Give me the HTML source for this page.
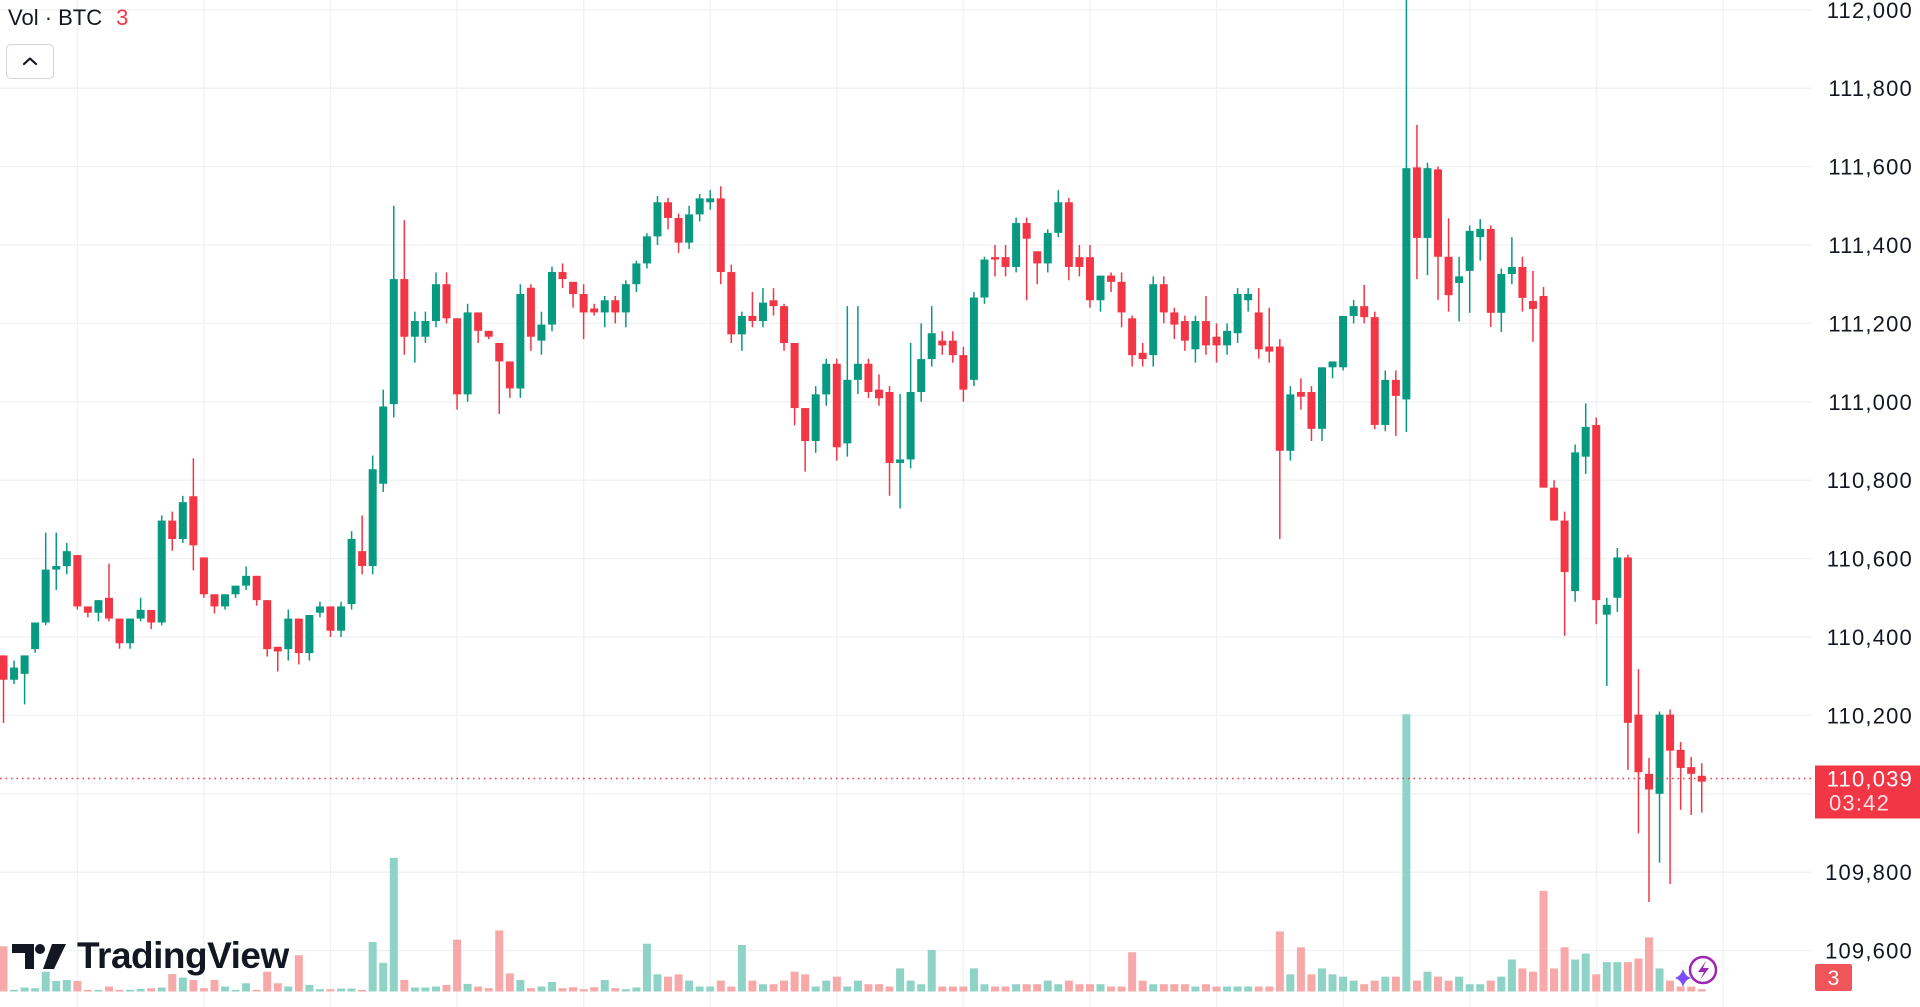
<!DOCTYPE html>
<html><head><meta charset="utf-8"><title>BTC chart</title>
<style>
html,body{margin:0;padding:0;background:#fff;width:1920px;height:1007px;overflow:hidden;font-family:"Liberation Sans",sans-serif;}
#wrap{position:relative;width:1920px;height:1007px;}
svg{position:absolute;left:0;top:0;}
.hdr{position:absolute;left:8px;top:5px;font-size:22px;color:#131722;}
.hdr span{color:#f23645;margin-left:14px;}
.btn{position:absolute;left:6px;top:44px;width:48px;height:35px;border:1px solid #d1d4dc;border-radius:5px;box-sizing:border-box;background:#fff;}
.logo{position:absolute;left:12px;top:935px;height:42px;display:flex;align-items:center;}
.logo .t{font-size:37px;font-weight:bold;color:#131722;margin-left:11px;letter-spacing:-0.5px;}
</style></head>
<body>
<div id="wrap">
<svg id="chart" width="1920" height="1007"></svg>
<div class="hdr">Vol · BTC<span>3</span></div>
<div class="btn"><svg width="46" height="33" style="position:static"><path d="M17 19 L23 13.5 L29 19" fill="none" stroke="#131722" stroke-width="2.2" stroke-linecap="round" stroke-linejoin="round"/></svg></div>
<div class="logo">
<svg width="54" height="28" style="position:static"><path d="M0 2 H22 V27 H13 V11 H0 Z" fill="#131722"/><circle cx="28" cy="7" r="5" fill="#131722"/><path d="M40 2 H54 L42 27 H31 Z" fill="#131722"/></svg>
<span class="t">TradingView</span></div>
</div>
<script>
const opens=[
110353,110291,110306,110369,110437,110572,110581,110609,110478,110462,
110500,110447,110384,110447,110469,110437,110697,110650,110759,110603,
110509,110478,110509,110531,110556,110494,110375,110369,110447,110359,
110462,110478,110416,110484,110619,110581,110791,110994,111313,111166,
111166,111206,111300,111213,111019,111228,111181,111150,111103,111034,
111291,111156,111197,111331,111306,111275,111238,111228,111259,111228,
111300,111353,111422,111509,111469,111406,111478,111509,111519,111331,
111172,111219,111206,111259,111244,111150,110984,110900,111019,111097,
110894,111056,111097,111031,111025,110844,110853,111025,111109,111156,
111156,111119,111056,111266,111369,111369,111344,111456,111384,111353,
111431,111509,111369,111369,111259,111322,111306,111213,111125,111119,
111300,111228,111206,111134,111206,111166,111144,111175,111259,111228,
111141,111141,110875,111025,111025,110931,111088,111088,111219,111244,
111216,110941,111056,111006,111598,111418,111593,111370,111303,111334,
111420,111441,111227,111326,111344,111257,111270,110781,110697,110517,
110860,110941,110457,110500,110603,110202,110051,110000,110202,110112,
110068,110046];
const closes=[
110291,110322,110353,110437,110572,110581,110619,110478,110462,110494,
110447,110384,110447,110469,110437,110697,110650,110744,110634,110509,
110478,110509,110531,110556,110494,110369,110363,110447,110359,110456,
110478,110416,110478,110650,110581,110828,110988,111313,111166,111206,
111206,111300,111213,111019,111228,111181,111166,111103,111034,111275,
111166,111197,111331,111313,111275,111228,111228,111259,111228,111300,
111353,111422,111509,111469,111406,111478,111519,111519,111331,111172,
111219,111206,111253,111244,111150,110984,110900,111019,111097,110884,
111056,111097,111025,111009,110844,110853,111025,111109,111175,111144,
111119,111031,111266,111363,111363,111344,111456,111416,111353,111431,
111509,111344,111344,111259,111322,111306,111228,111119,111109,111300,
111228,111197,111156,111206,111144,111144,111181,111275,111275,111134,
111128,110875,111019,111013,110931,111088,111103,111219,111244,111216,
110941,111056,111015,111596,111418,111596,111370,111272,111320,111436,
111441,111227,111326,111344,111265,111237,110781,110697,110566,110871,
110936,110494,110482,110603,110181,110055,110011,110202,110110,110066,
110051,110031];
const highs=[
null,110340,null,110385,110666,110666,110640,null,null,null,
110587,null,null,110500,null,110710,110720,110760,110856,null,
null,null,null,110580,null,null,null,110470,null,null,
110490,null,110490,110670,110710,110863,111031,111500,111463,111230,
111230,111330,111330,null,111250,null,null,null,null,111300,
111300,111230,111345,111353,111300,111300,111250,111270,111270,111310,
111360,111430,111525,111520,111480,111500,111530,111540,111550,111350,
111230,111280,111290,111290,111250,null,null,111040,111110,111110,
111244,111244,111110,111070,111040,111020,111150,111200,111244,111180,
111180,111140,111280,111370,111400,111400,111470,111470,null,111440,
111540,111520,111400,111400,111280,111330,111330,111220,111150,111320,
111320,111240,111220,111220,111270,111200,111200,111290,111290,111290,
111240,111160,111040,111060,111040,110960,111100,111150,111260,111298,
111230,111080,111080,112025,111706,111610,111600,111468,111370,111450,
111466,111450,111340,111420,111370,111334,111293,110800,110720,110891,
110996,110960,110500,110627,110610,110318,110091,110210,110215,110132,
110094,110078];
const lows=[
110181,110280,110228,110360,110430,110520,110560,110470,110450,110440,
110440,110370,110370,110440,110420,110430,110620,110640,110570,110500,
110460,110470,110500,110520,110480,110350,110312,110340,110330,110340,
110450,110400,110400,110470,110560,110560,110770,110960,111120,111100,
111150,111190,111200,110980,111000,111150,111160,110969,111010,111010,
111130,111120,111180,111290,111240,111160,111220,111190,111200,111190,
111280,111340,111400,111440,111380,111390,111460,111490,111300,111150,
111130,111190,111190,111220,111130,110940,110822,110870,110990,110850,
110860,111020,111010,110990,110760,110728,110830,111000,111090,111120,
111100,111000,111040,111250,111320,111320,111330,111259,111300,111330,
111420,111310,111320,111240,111230,111280,111190,111090,111090,111090,
111200,111160,111130,111100,111120,111100,111120,111150,111230,111110,
111100,110650,110850,110980,110900,110900,111060,111080,111200,111200,
110930,110925,110913,110923,111313,111323,111260,111230,111205,111227,
111360,111191,111178,111300,111230,111153,111250,110700,110403,110490,
110816,110433,110275,110464,110061,109899,109724,109824,109770,109959,
109946,109952];
const volumes=[
137,5,12,10,60,32,35,32,5,5,
15,5,5,8,10,12,53,42,35,10,
35,15,5,25,5,60,25,15,110,20,
7,7,9,9,5,150,87,405,35,12,
12,15,20,157,23,15,10,185,55,35,
10,15,29,10,13,7,13,35,10,7,
12,145,52,45,52,33,15,15,33,15,
141,33,22,22,33,60,52,15,33,45,
15,33,22,22,15,70,33,22,126,15,
15,15,70,22,15,15,22,22,22,33,
22,33,22,22,22,15,15,119,33,22,
22,22,22,15,22,15,15,15,15,15,
15,182,52,134,52,70,52,45,33,22,
33,45,45,840,33,60,45,33,45,22,
22,33,45,97,70,60,305,70,134,97,
115,52,89,89,89,100,164,70,33,15,
15,7];
const priceTicks=[112000,111800,111600,111400,111200,111000,110800,110600,110400,110200,109800,109600];
const lastPrice=110039;
const countdown="03:42";
const volumeLabel="3";

const NS="http://www.w3.org/2000/svg";
const svg=document.getElementById('chart');
const plotRight=1812, x0=3.5, step=10.548;
const yTop=9.8, pTop=112000, pxPer=0.392;
const volBase=991.5, volPx=0.33;
function xScale(i){return x0+i*step;}
function yScale(p){return yTop+(pTop-p)*pxPer;}
function vScale(v){return v*volPx;}
function mk(tag,attrs){const e=document.createElementNS(NS,tag);for(const k in attrs)e.setAttribute(k,attrs[k]);svg.appendChild(e);return e;}
const UP='#089981',DN='#f23645';
for(let g=0;g<15;g++){const gx=77.3+g*126.6;if(gx>plotRight)break;
 const l=mk('line',{x1:gx,x2:gx,y1:0,y2:1007,stroke:'#f0f1f3','stroke-width':1.3});
 
 }
const allTicks=priceTicks.concat([110000]);
allTicks.forEach(p=>{const y=yScale(p);
 const l=mk('line',{x1:0,x2:plotRight,y1:y,y2:y,stroke:'#f0f1f3','stroke-width':1.3});
 
 });
volumes.forEach((v,i)=>{const up=closes[i]>=opens[i];const h=vScale(v);
 const r=mk('rect',{x:xScale(i)-4,y:volBase-h,width:8,height:h,fill:up?'#8fd3c6':'#f7a8a8'});
 
 });
opens.forEach((o,i)=>{const c=closes[i];const up=c>=o;const col=up?UP:DN;const x=xScale(i);
 const hi=highs[i]==null?Math.max(o,c):highs[i];const lo=lows[i]==null?Math.min(o,c):lows[i];
 const w=mk('line',{x1:x,x2:x,y1:yScale(hi),y2:yScale(lo),stroke:col,'stroke-width':1.5});
 
 
 const yt=yScale(Math.max(o,c)),yb=yScale(Math.min(o,c));
 const b=mk('rect',{x:x-4,y:yt,width:8,height:Math.max(1.5,yb-yt),fill:col});
 
 });
const ly=yScale(lastPrice);
const pl=mk('line',{x1:0,x2:plotRight,y1:ly,y2:ly,stroke:DN,'stroke-width':1.5,'stroke-dasharray':'1.5 4'});


priceTicks.forEach(p=>{const t=mk('text',{x:1913,y:yScale(p)+8,'text-anchor':'end','font-size':22,'letter-spacing':'1.2',fill:'#131722','font-family':'Liberation Sans, sans-serif'});
 t.textContent=p.toLocaleString('en-US');
 
 });
const lb=mk('rect',{x:1815,y:ly-13,width:105,height:53,fill:DN});


const lt=mk('text',{x:1913,y:ly+8,'text-anchor':'end','font-size':22,'letter-spacing':'1.2',fill:'#fff','font-family':'Liberation Sans, sans-serif'});
lt.textContent=lastPrice.toLocaleString('en-US');


const ct=mk('text',{x:1829,y:ly+32,'font-size':22,'letter-spacing':'1.2',fill:'#fde0e2','font-family':'Liberation Sans, sans-serif'});
ct.textContent=countdown;


const vb=mk('rect',{x:1815,y:964,width:37,height:27,fill:'#f0555a',rx:2});


const vt=mk('text',{x:1833.5,y:985,'text-anchor':'middle','font-size':21,fill:'#fff','font-family':'Liberation Sans, sans-serif'});
vt.textContent=volumeLabel;


const ic=mk('g',{});


const cc=document.createElementNS(NS,'circle');cc.setAttribute('cx',1703);cc.setAttribute('cy',970);cc.setAttribute('r',13);cc.setAttribute('fill','none');cc.setAttribute('stroke','#9c27b0');cc.setAttribute('stroke-width',2.5);ic.appendChild(cc);
const bolt=document.createElementNS(NS,'path');bolt.setAttribute('d','M1706 961 L1698 972 L1704 972 L1700 980 L1709 968 L1703 968 Z');bolt.setAttribute('fill','#9c27b0');ic.appendChild(bolt);
const sp=document.createElementNS(NS,'path');sp.setAttribute('d','M1683 969 Q1685 976 1691 978 Q1685 980 1683 987 Q1681 980 1675 978 Q1681 976 1683 969 Z');sp.setAttribute('fill','#7c4dff');ic.appendChild(sp);
</script>
</body></html>
